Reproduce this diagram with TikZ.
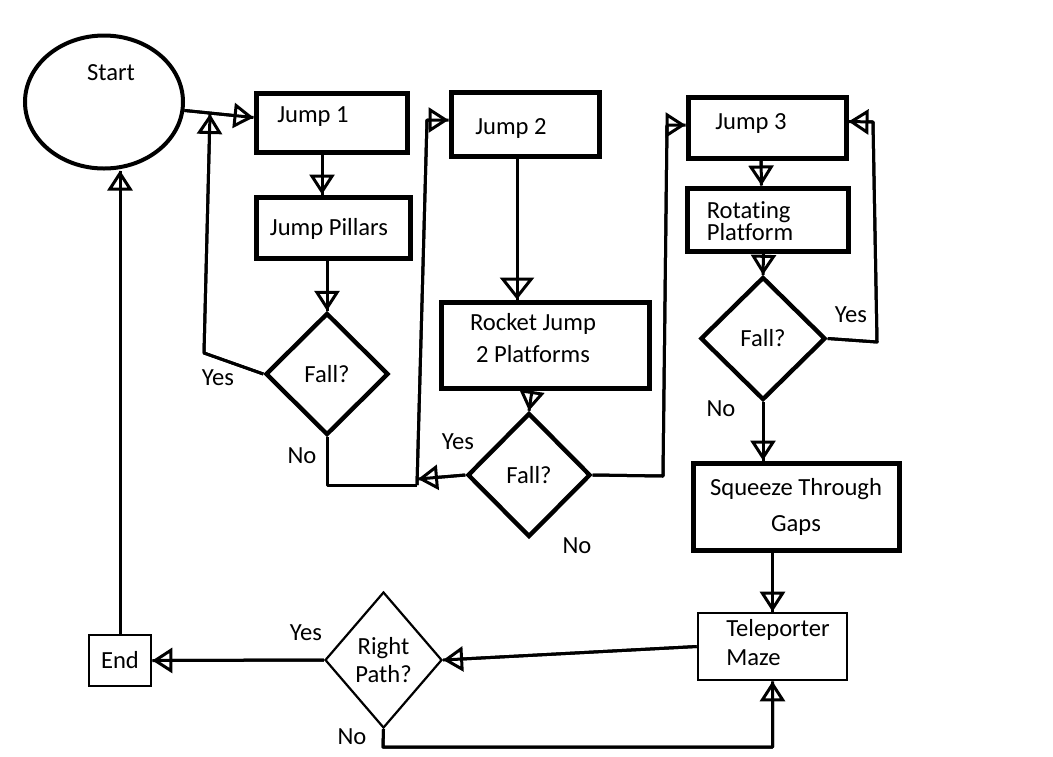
\documentclass[tikz,border=0pt]{standalone}
\usepackage{fontspec}
\setmainfont{Carlito}[Ligatures={NoCommon}]
\usetikzlibrary{shapes.geometric, arrows.meta}
\newcommand{\flowfont}{\fontsize{12.3}{14.6}\selectfont}

\begin{document}
\begin{tikzpicture}[x=0.5pt, y=-0.5pt,
% boxes
task/.style={draw, rectangle, line width=2.5pt, inner sep=0, font=\flowfont},
thintask/.style={task, line width=1.3pt},
terminal/.style={draw, ellipse, line width=2pt, inner sep=0},
decision/.style={draw, diamond, line width=2.2pt, inner sep=0, font=\flowfont},
thindecision/.style={decision, line width=1.1pt},
% connectors
flow/.style={line width=1.5pt, line join=round, -{Triangle[open, length=10pt, width=12.5pt]}, postaction={draw, -}},
bigflow/.style={flow, -{Triangle[open, length=11pt, width=17pt]}},
link/.style={line width=1.5pt, line join=round},
% annotations
annot/.style={font=\flowfont, inner sep=0}
]

\useasboundingbox (0,0) rectangle (1053,756);

% SHAPES

\node[terminal, minimum width=79pt, minimum height=66.5pt] (start) at (104,102) {};
\node[task, minimum width=75.5pt, minimum height=29.5pt] (jump1) at (331.5,122.5) {};
\node[task, minimum width=77pt, minimum height=30.5pt] (pillars) at (333,227.5) {};
\node[decision, minimum width=61.5pt, minimum height=61pt] (fall1) at (327,374) {Fall?};
\node[task, minimum width=74pt, minimum height=32pt] (jump2) at (525,124) {};
\node[task, minimum width=104pt, minimum height=43pt] (rocket) at (545,345) {};
\node[decision, minimum width=61.5pt, minimum height=62pt] (fall2) at (529,475) {Fall?};
\node[task, minimum width=79pt, minimum height=30.5pt] (jump3) at (767,127.5) {};
\node[task, minimum width=80.5pt, minimum height=31.5pt] (rotating) at (767.5,219.5) {};
\node[decision, minimum width=62.5pt, minimum height=61.5pt] (fall3) at (763,338.5) {Fall?};
\node[task, minimum width=103pt, minimum height=43.5pt, align=center] (squeeze) at (796,506.5) {Squeeze Through\\[3.4pt]Gaps};
\node[thintask, minimum width=74.5pt, minimum height=33.5pt] (teleporter) at (772.5,646.5) {};
\node[thindecision, minimum width=58.5pt, minimum height=68pt, align=center] (rightpath) at (383.5,660) {Right\\[-0.6pt]Path?};
\node[thintask, minimum width=31pt, minimum height=25.5pt] (end) at (120,660.5) {End};

% texts inside the boxes
\path
(start) +(7,-29) node[annot] (starttxt) {Start}
(jump1) +(-18.5,-5.5) node[annot] (jump1txt) {Jump 1}
(pillars) +(-4,1.5) node[annot] (pillarstxt) {Jump Pillars}
(jump2) +(-14,4) node[annot] (jump2txt) {Jump 2}
(rocket) +(-12,-7) node[annot, align=center] (rockettxt) {Rocket Jump\\[1.4pt]2 Platforms}
(jump3) +(-16,-4.5) node[annot] (jump3txt) {Jump 3}
(rotating) +(-17.5,1.5) node[annot, align=left] (rotatingtxt) {Rotating\\[-3.6pt]Platform}
(teleporter) +(5.5,-3.5) node[annot, align=left] (teleportertxt) {Teleporter\\[-0.1pt]Maze}
;

% BENDS

\coordinate (f1yesbend) at (204,353);
\coordinate (f1yestip) at (210,114);
\coordinate (nomerge) at (417,485);
\coordinate (f2yestip) at (418,479);
\coordinate (no1up) at (427,120);
\coordinate (f2nobend) at (663,476);
\coordinate (f2noup) at (667,125);
\coordinate (f3yesbend) at (877,342);
\coordinate (f3yesup) at (873,122);
\coordinate (rpnobend) at (383,747);

% CONNECTORS

\draw[flow] (start.-6) -- ([yshift=2.5pt]jump1.west);
\draw[flow] ([xshift=-4.75pt]jump1.south) -- ([xshift=-5.5pt]pillars.north);
\draw[flow] ([xshift=-3pt]pillars.south) -- (fall1.north);
\draw[flow] (fall1.west) -- (f1yesbend) -- (f1yestip);
\draw[link] (fall1.south) -- (fall1.south |- nomerge) -- (nomerge);
\draw[flow] (nomerge) -- (no1up) -- ([yshift=2pt]jump2.west);
\draw[bigflow] ([xshift=-4pt]jump2.south) -- ([xshift=-14pt]rocket.north);
\draw[flow] ([xshift=-6.5pt]rocket.south) -- (fall2.north);
\draw[flow] (fall2.west) -- (f2yestip);
\draw[flow] (fall2.east) -- (f2nobend) -- (f2noup) -- ([yshift=1.25pt]jump3.west);
\draw[flow] ([xshift=-3pt]jump3.south) -- ([xshift=-3pt]rotating.north);
\draw[flow] ([xshift=-2pt]rotating.south) -- (fall3.north);
\draw[flow] (fall3.east) -- (f3yesbend) -- (f3yesup) -- ([yshift=3pt]jump3.east);
\draw[flow] (fall3.south) -- (fall3.south |- squeeze.north);
\draw[flow] (teleporter.north |- squeeze.south) -- (teleporter.north);
\draw[flow] (teleporter.west) -- (rightpath.east);
\draw[flow] (rightpath.west) -- (end.east);
\draw[flow] (rightpath.south) -- (rpnobend) -- (rpnobend -| teleporter.south) -- (teleporter.south);
\draw[flow] (end.north) -- (end.north |- start.south);

% answers
\path
(218,378) node[annot] (yes1) {Yes}
(302,456) node[annot] (no1) {No}
(458,442) node[annot] (yes2) {Yes}
(577,546) node[annot] (no2) {No}
(851,315) node[annot] (yes3) {Yes}
(721,409) node[annot] (no3) {No}
(306,633) node[annot] (yes4) {Yes}
(352,737) node[annot] (no4) {No}
;

\end{tikzpicture}
\end{document}
